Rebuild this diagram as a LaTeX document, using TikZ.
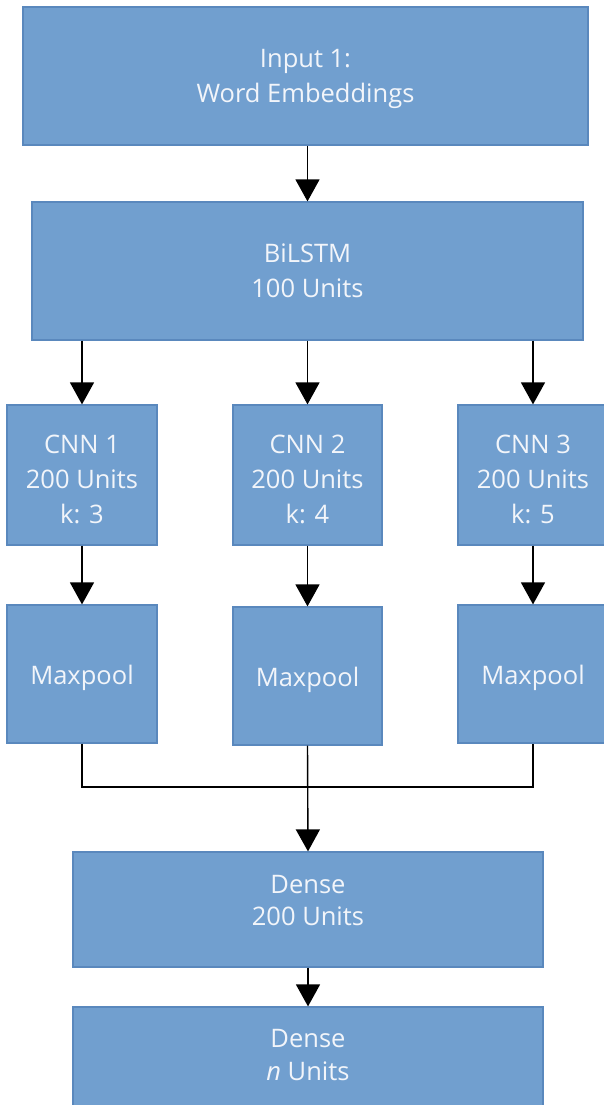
\documentclass[tikz,border=0pt]{standalone}
\usepackage{fontspec}
\setmainfont{Open Sans}
\usetikzlibrary{arrows.meta}
\definecolor{boxfill}{HTML}{719FCF}
\definecolor{boxline}{HTML}{5A88BD}
\definecolor{boxtext}{HTML}{F2F5FA}
\newcommand{\shifttext}[2]{\raisebox{#1}[\height][\depth]{\begin{tabular}{@{}c@{}}#2\end{tabular}}}
\begin{document}
\begin{tikzpicture}[x=1pt,y=-1pt,
  layer/.style={draw=boxline,line width=1.2pt,fill=boxfill,text=boxtext,align=center,
    inner sep=0pt,font=\fontsize{25.5}{35}\selectfont},
  conn/.style={line width=1.4pt,draw=black},
  arr/.style={conn,-{Triangle[width=24pt,length=22pt]}}]
\useasboundingbox (0,0) rectangle (603,1105);
\node[layer,minimum width=565pt,minimum height=138pt] (inp) at (305.5,76) {\shifttext{-2pt}{Input 1:\\Word Embeddings}};
\node[layer,minimum width=551pt,minimum height=138pt] (bil) at (307.5,271) {\shifttext{-2pt}{BiLSTM\\100 Units}};
\node[layer,minimum width=150pt,minimum height=140pt] (c1) at (82,475) {\shifttext{-6pt}{CNN 1\\200 Units\\k: 3}};
\node[layer,minimum width=149pt,minimum height=140pt] (c2) at (307.5,475) {\shifttext{-6pt}{CNN 2\\200 Units\\k: 4}};
\node[layer,minimum width=150pt,minimum height=140pt] (c3) at (533,475) {\shifttext{-6pt}{CNN 3\\200 Units\\k: 5}};
\node[layer,minimum width=150pt,minimum height=138pt] (m1) at (82,674) {\shifttext{-3pt}{Maxpool}};
\node[layer,minimum width=149pt,minimum height=138pt] (m2) at (307.5,676) {\shifttext{-3pt}{Maxpool}};
\node[layer,minimum width=150pt,minimum height=138pt] (m3) at (533,674) {\shifttext{-3pt}{Maxpool}};
\node[layer,minimum width=470pt,minimum height=115pt] (d1) at (308,909.5) {\shifttext{7pt}{Dense\\[-3pt]200 Units}};
\node[layer,minimum width=470pt,minimum height=100pt] (d2) at (308,1057) {\shifttext{0pt}{Dense\\[-2pt]\textit{n} Units}};
\coordinate (mg) at (308,787);
\draw[arr] (inp.south -| bil.north) -- (bil.north);
\draw[arr] (c1.north |- bil.south) -- (c1.north);
\draw[arr] (c2.north |- bil.south) -- (c2.north);
\draw[arr] (c3.north |- bil.south) -- (c3.north);
\draw[arr] (c1.south) -- (m1.north);
\draw[arr] (c2.south) -- (m2.north);
\draw[arr] (c3.south) -- (m3.north);
\draw[conn] (m1.south) |- (mg) -| (m3.south);
\draw[arr] (m2.south) -- (d1.north);
\draw[arr] (d1.south) -- (d2.north);
\end{tikzpicture}
\end{document}
